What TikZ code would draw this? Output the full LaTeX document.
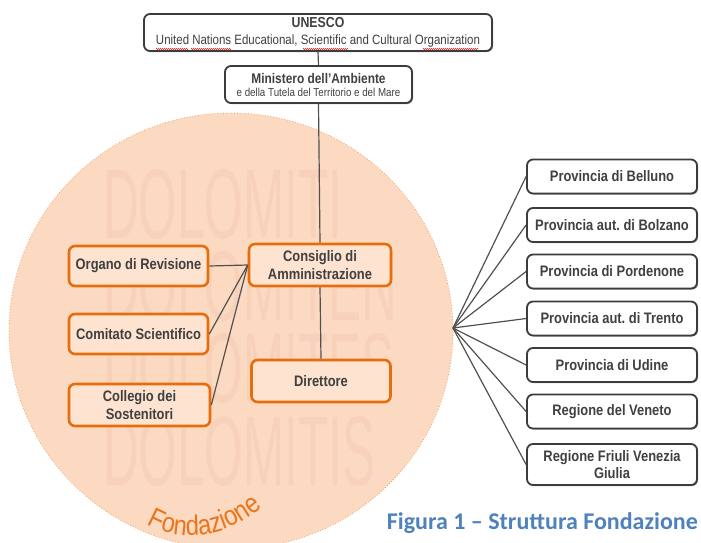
\documentclass[tikz,border=0pt]{standalone}
\usepackage{fontspec}
\setmainfont{Liberation Sans}
\newfontfamily\nar[FakeStretch=0.85]{Liberation Sans}
\newfontfamily\wmfont[FakeStretch=0.5]{Liberation Sans}
\newfontfamily\capfont{Carlito}
\usetikzlibrary{decorations.pathmorphing,decorations.text,shadows}
\definecolor{peach}{HTML}{FCDAC2}
\definecolor{boxfill}{HTML}{FDE3D0}
\definecolor{orline}{HTML}{E66C0C}
\definecolor{dotcol}{HTML}{F0A064}
\definecolor{wmcol}{HTML}{F7D1BA}
\definecolor{txt}{HTML}{404040}
\definecolor{conncol}{HTML}{505050}
\definecolor{gline}{HTML}{3C3C3C}
\definecolor{capblue}{HTML}{4F81BD}
\definecolor{fondor}{HTML}{EC741A}
\definecolor{squig}{HTML}{D04040}
\frenchspacing
\begin{document}
\begin{tikzpicture}[x=1pt,y=-1pt,
  obox/.style={draw=orline, line width=2.6pt, fill=boxfill, rounded corners=6pt, align=center, text=txt,
    font=\nar\bfseries\fontsize{15.2}{18}\selectfont, inner sep=0pt},
  gbox/.style={draw=gline, line width=1.8pt, fill=white, rounded corners=6pt, align=center, text=txt,
    font=\nar\bfseries\fontsize{15.2}{17}\selectfont, inner sep=0pt, minimum width=170pt, minimum height=34pt,
    drop shadow={shadow xshift=1pt, shadow yshift=-1pt, fill=black!45, opacity=1}},
  conn/.style={draw=conncol, line width=1.2pt},
  wmark/.style={anchor=base west, text=wmcol, font=\wmfont\fontsize{99}{99}\selectfont, inner sep=0pt},
  squiggle/.style={draw=squig, line width=0.5pt, decorate, decoration={zigzag, amplitude=0.7pt, segment length=2pt}}]
\useasboundingbox (0,0) rectangle (701,542);
% Foundation circle
\fill[peach] (231,331) ellipse [x radius=222pt, y radius=218pt];
\node[wmark] (wm1) at (103,238) {DOLOMITI};
\node[wmark] (wm2) at (103,320) {DOLOMITEN};
\node[wmark] (wm3) at (103,402) {DOLOMITES};
\node[wmark] (wm4) at (103,485) {DOLOMITIS};
\draw[dotcol, line width=0.8pt, dotted] (231,331) ellipse [x radius=222pt, y radius=218pt];

% top boxes
\node[gbox, minimum width=348pt, minimum height=37pt, font=\nar\bfseries\fontsize{14.5}{17}\selectfont] (unesco) at (318,32.5)
  {UNESCO\\[0pt]{\mdseries\fontsize{13.5}{14}\selectfont United Nations Educational, Scientific and Cultural Organization}};
\node[gbox, minimum width=187pt, minimum height=37pt, font=\nar\bfseries\fontsize{14}{16}\selectfont] (min) at (318.5,84.5)
  {Ministero dell’Ambiente\\[-3pt]{\mdseries\fontsize{11.5}{12}\selectfont e della Tutela del Territorio e del Mare}};

% orange boxes
\node[obox, minimum width=139pt, minimum height=40pt] (org) at (138.5,266) {Organo di Revisione};
\node[obox, minimum width=139pt, minimum height=40pt] (com) at (138.5,334) {Comitato Scientifico};
\node[obox, minimum width=141pt, minimum height=42pt] (col) at (139.5,405) {Collegio dei\\Sostenitori};
\node[obox, minimum width=142pt, minimum height=42pt] (cda) at (320,265) {Consiglio di\\Amministrazione};
\node[obox, minimum width=139pt, minimum height=42pt] (dir) at (321,381) {Direttore};

% right boxes
\node[gbox] (p1) at (612,176.5) {Provincia di Belluno};
\node[gbox] (p2) at (612,225) {Provincia aut. di Bolzano};
\node[gbox] (p3) at (612,271.5) {Provincia di Pordenone};
\node[gbox] (p4) at (612,318.5) {Provincia aut. di Trento};
\node[gbox] (p5) at (612,365) {Provincia di Udine};
\node[gbox] (p6) at (612,411.5) {Regione del Veneto};
\node[gbox, minimum height=41pt] (p7) at (612,464.5) {Regione Friuli Venezia\\Giulia};
\coordinate (hub) at (453,328);

% connectors
\draw[conn] (unesco.south) -- (min.north);
\draw[conn] (min.south) -- (cda.north);
\draw[conn] (cda.south) -- (dir.north);
\draw[conn] (org.east) -- (cda.west);
\draw[conn] (com.east) -- (cda.west);
\draw[conn] (col.east) -- (cda.west);
\foreach \i in {1,...,7} {\draw[conn] (hub) -- (p\i.west);}

% spelling squiggles
\draw[squiggle] (156,49) -- (188,49);
\draw[squiggle] (191,49) -- (231,49);
\draw[squiggle] (303,49) -- (348,49);
\draw[squiggle] (423,49) -- (478,49);

% labels
\path[decorate, decoration={text along path, text align=center,
  text={|\nar\fontsize{28}{28}\selectfont\color{fondor}|Fondazione}}]
  (144,522) .. controls (172,543) and (228,541) .. (265,504);
\node[anchor=base east, text=capblue, font=\capfont\bfseries\fontsize{24}{24}\selectfont, inner sep=0pt] (cap) at (698,529) {Figura 1 – Struttura Fondazione};
\end{tikzpicture}
\end{document}
